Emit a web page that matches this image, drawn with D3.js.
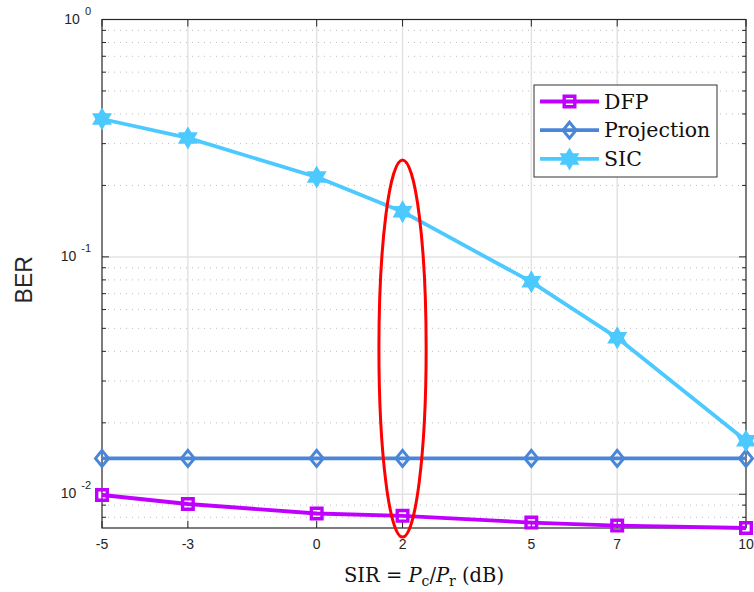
<!DOCTYPE html>
<html>
<head>
<meta charset="utf-8">
<script src="https://cdn.jsdelivr.net/npm/d3@7"></script>
<style>
  html, body { margin: 0; padding: 0; background: #fff; }
  svg { display: block; }
</style>
</head>
<body>
<svg id="chart" width="754" height="592"></svg>
<script>
// SIR values (dB) and BER per receiver
const sir = [-5, -3, 0, 2, 5, 7, 10];
const berDFP = [0.00993, 0.00910, 0.00830, 0.00811, 0.00760, 0.00738, 0.00721];
const berProjection = [0.01416, 0.01416, 0.01416, 0.01416, 0.01416, 0.01416, 0.01416];
const berSIC = [0.381, 0.317, 0.217, 0.155, 0.0785, 0.0456, 0.0168];
const seriesNames = ["DFP", "Projection", "SIC"];
const seriesColors = ["#c000ff", "#4a86d8", "#4cc9ff"];
const yTickExponents = [0, -1, -2];
const yDomain = [0.00721, 1];
// highlighted region around SIR = 2 dB
const highlightSIR = 2;
const highlightBER = [0.0066, 0.256];
const highlightHalfWidth = 0.55;

const svg = d3.select("#chart");
const m = { left: 102, right: 746, top: 19.5, bottom: 528 };

const x = d3.scaleLinear().domain([-5, 10]).range([m.left, m.right]);
const y = d3.scaleLog().domain(yDomain).range([m.bottom, m.top]);

const serif = "DejaVu Serif, serif";
const sans = "Liberation Sans, Arial, sans-serif";

const grid = svg.append("g");
// minor horizontal grid (dotted)
const minorVals = [];
for (let e = -3; e <= 0; e++) {
  for (let k = 2; k <= 9; k++) {
    const v = k * Math.pow(10, e);
    if (v > yDomain[0] && v < yDomain[1]) minorVals.push(v);
  }
}
grid.selectAll(".minor").data(minorVals).join("line")
  .attr("x1", m.left).attr("x2", m.right)
  .attr("y1", d => y(d)).attr("y2", d => y(d))
  .attr("stroke", "#bdbdbd").attr("stroke-width", 1)
  .attr("stroke-dasharray", "1,5");
// major horizontal grid
grid.selectAll(".majorY").data(yTickExponents.map(e => Math.pow(10, e)).filter(v => v < 1)).join("line")
  .attr("x1", m.left).attr("x2", m.right)
  .attr("y1", d => y(d)).attr("y2", d => y(d))
  .attr("stroke", "#e3e3e3").attr("stroke-width", 1.5);
// vertical grid
grid.selectAll(".majorX").data(sir.filter(v => v > -5 && v < 10)).join("line")
  .attr("x1", d => x(d)).attr("x2", d => x(d))
  .attr("y1", m.top).attr("y2", m.bottom)
  .attr("stroke", "#e3e3e3").attr("stroke-width", 1.5);

// axes box and ticks
const axisColor = "#262626";
const ax = svg.append("g");
ax.append("rect")
  .attr("x", m.left).attr("y", m.top)
  .attr("width", m.right - m.left).attr("height", m.bottom - m.top)
  .attr("fill", "none").attr("stroke", axisColor).attr("stroke-width", 1.2);

sir.forEach(v => {
  ax.append("line").attr("x1", x(v)).attr("x2", x(v)).attr("y1", m.bottom).attr("y2", m.bottom - 7)
    .attr("stroke", axisColor);
  ax.append("line").attr("x1", x(v)).attr("x2", x(v)).attr("y1", m.top).attr("y2", m.top + 7)
    .attr("stroke", axisColor);
});
yTickExponents.map(e => Math.pow(10, e)).forEach(v => {
  ax.append("line").attr("x1", m.left).attr("x2", m.left + 7).attr("y1", y(v)).attr("y2", y(v)).attr("stroke", axisColor);
  ax.append("line").attr("x1", m.right).attr("x2", m.right - 7).attr("y1", y(v)).attr("y2", y(v)).attr("stroke", axisColor);
});
minorVals.forEach(v => {
  ax.append("line").attr("x1", m.left).attr("x2", m.left + 4).attr("y1", y(v)).attr("y2", y(v)).attr("stroke", axisColor);
  ax.append("line").attr("x1", m.right).attr("x2", m.right - 4).attr("y1", y(v)).attr("y2", y(v)).attr("stroke", axisColor);
});

// x tick labels
ax.selectAll(".xl").data(sir).join("text")
  .attr("x", d => x(d)).attr("y", 549)
  .attr("text-anchor", "middle")
  .attr("font-family", sans)
  .attr("font-size", 14).attr("fill", axisColor)
  .text(d => d);

// y tick labels: 10^e
yTickExponents.forEach(e => {
  const t = ax.append("text")
    .attr("x", 91).attr("y", y(Math.pow(10, e)) + 4)
    .attr("text-anchor", "end")
    .attr("font-family", sans)
    .attr("fill", axisColor);
  t.append("tspan").attr("font-size", 14).text("10");
  t.append("tspan").attr("font-size", 11).attr("dx", 5).attr("dy", -9).text(e);
});

// axis titles
svg.append("text")
  .attr("transform", `translate(32, ${(m.top + m.bottom) / 2 + 6}) rotate(-90)`)
  .attr("text-anchor", "middle")
  .attr("font-family", sans)
  .attr("font-size", 23).attr("fill", axisColor)
  .text("BER");

const xt = svg.append("text")
  .attr("x", (m.left + m.right) / 2).attr("y", 582)
  .attr("text-anchor", "middle")
  .attr("font-family", serif)
  .attr("font-size", 19.5).attr("fill", "#111");
xt.append("tspan").text("SIR = ");
xt.append("tspan").attr("font-style", "italic").text("P");
xt.append("tspan").attr("font-size", 14).attr("dy", 4).text("c");
xt.append("tspan").attr("dy", -4).text("/");
xt.append("tspan").attr("font-style", "italic").text("P");
xt.append("tspan").attr("font-size", 14).attr("dy", 4).text("r");
xt.append("tspan").attr("dy", -4).text(" (dB)");

// marker shapes
function squarePath(s) { return `M${-s},${-s}H${s}V${s}H${-s}Z`; }
function diamondPath(w, h) { return `M0,${-h}L${w},0L0,${h}L${-w},0Z`; }
function hexagramPath(ro) {
  const ri = ro / Math.sqrt(3);
  const pts = [];
  for (let i = 0; i < 12; i++) {
    const r = i % 2 === 0 ? ro : ri;
    const a = -Math.PI / 2 + i * Math.PI / 6;
    pts.push([r * Math.cos(a), r * Math.sin(a)]);
  }
  return "M" + pts.map(p => p.join(",")).join("L") + "Z";
}
const markers = [
  { d: squarePath(5.3), fill: "none", sw: 3.4 },
  { d: diamondPath(6.5, 8), fill: "none", sw: 3 },
  { d: hexagramPath(10), fill: null, sw: 1.5 }
];

const seriesData = [berDFP, berProjection, berSIC];
const line = d3.line().x((d, i) => x(sir[i])).y(d => y(d));
const plot = svg.append("g");
seriesData.forEach((vals, si) => {
  const g = plot.append("g");
  g.append("path").datum(vals).attr("d", line)
    .attr("fill", "none").attr("stroke", seriesColors[si]).attr("stroke-width", 3.8)
    .attr("stroke-linejoin", "round");
  g.selectAll("path.mk").data(vals).join("path").attr("class", "mk")
    .attr("transform", (d, i) => `translate(${x(sir[i])},${y(d)})`)
    .attr("d", markers[si].d)
    .attr("fill", markers[si].fill || seriesColors[si])
    .attr("stroke", seriesColors[si]).attr("stroke-width", markers[si].sw)
    .attr("stroke-linejoin", "miter");
});

// highlight ellipse
const yTop = y(highlightBER[1]), yBot = y(highlightBER[0]);
svg.append("ellipse")
  .attr("cx", x(highlightSIR)).attr("cy", (yTop + yBot) / 2)
  .attr("rx", x(highlightSIR + highlightHalfWidth) - x(highlightSIR))
  .attr("ry", (yBot - yTop) / 2)
  .attr("fill", "none").attr("stroke", "#ff0000").attr("stroke-width", 3);

// legend
const lg = svg.append("g");
lg.append("rect").attr("x", 534).attr("y", 85).attr("width", 183).attr("height", 92)
  .attr("fill", "#fff").attr("stroke", "#333").attr("stroke-width", 1);
seriesNames.forEach((name, i) => {
  const cy = 101.5 + i * 28.7;
  lg.append("line").attr("x1", 540).attr("x2", 599).attr("y1", cy).attr("y2", cy)
    .attr("stroke", seriesColors[i]).attr("stroke-width", 3.8);
  lg.append("path").attr("transform", `translate(569.5,${cy})`).attr("d", markers[i].d)
    .attr("fill", markers[i].fill || seriesColors[i])
    .attr("stroke", seriesColors[i]).attr("stroke-width", markers[i].sw);
  lg.append("text").attr("x", 604).attr("y", cy + 7)
    .attr("font-family", serif)
    .attr("font-size", 20.5).attr("fill", "#111").text(name);
});
</script>
</body>
</html>
